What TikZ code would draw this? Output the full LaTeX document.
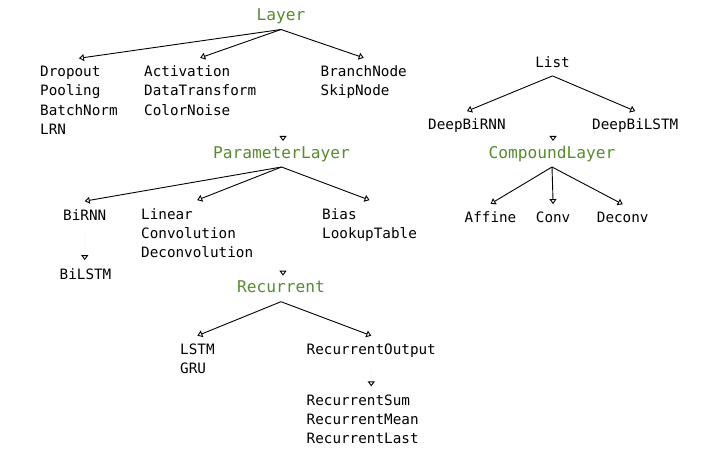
\documentclass[tikz,border=0pt]{standalone}
\usepackage{fontspec}
\setmonofont{DejaVu Sans Mono}
\usetikzlibrary{positioning,arrows.meta}
\definecolor{classgreen}{RGB}{88,138,48}

\begin{document}
\begin{tikzpicture}[x=1pt, y=-1pt,
		group/.style={font=\ttfamily\fontsize{14.3}{19.3}\selectfont, align=left, anchor=base west, inner sep=0pt, outer ysep=8pt},
		title/.style={font=\ttfamily\fontsize{16.2}{19.3}\selectfont, text=classgreen, anchor=base, inner sep=0pt, text height=12pt, text depth=4pt, outer ysep=5pt},
		edge/.style={-{Triangle[open, length=5pt, width=7pt]}, line width=0.9pt},
		hid/.style={draw=black!2, line width=0.9pt, -{Triangle[open, length=5pt, width=7pt, color=black]}}]
	\useasboundingbox (0,0) rectangle (720,468);

	% Layer and its children (groups sit on the baseline of their last line)
	\node[title] (layer) at (281,20.5) {Layer};
	\node[group] (drop) at (40,134.6) {Dropout\\Pooling\\BatchNorm\\LRN};
	\node[group] (act) at (144,115.3) {Activation\\DataTransform\\ColorNoise};
	\node[group] (branch) at (320.5,96) {BranchNode\\SkipNode};
	\draw[edge] (layer.south) -- (drop.north);
	\draw[edge] (layer.south) -- (act.north);
	\draw[edge] (layer.south) -- (branch.north);

	% ParameterLayer
	\node[title] (param) at (281.5,158) {ParameterLayer};
	\coordinate (paramin) at (283,125);
	\draw[hid] (paramin) -- (param.north -| paramin);
	\node[group] (birnn) at (63,220) {BiRNN};
	\node[group] (bilstm) at (59.5,279) {BiLSTM};
	\node[group] (lin) at (141,257.6) {Linear\\Convolution\\Deconvolution};
	\node[group] (bias) at (322,238.3) {Bias\\LookupTable};
	\draw[edge] (param.south) -- (birnn.north);
	\draw[edge] (param.south) -- (lin.north);
	\draw[edge] (param.south) -- (bias.north);
	\draw[hid] (birnn.south) -- (bilstm.north -| birnn.south);

	% Recurrent
	\node[title] (rec) at (281,292.7) {Recurrent};
	\coordinate (recin) at (283,262);
	\draw[hid] (recin) -- (rec.north -| recin);
	\node[group] (lstm) at (180,373.6) {LSTM\\GRU};
	\node[group] (recout) at (306.5,354.3) {RecurrentOutput};
	\node[group] (recsum) at (306.5,443.6) {RecurrentSum\\RecurrentMean\\RecurrentLast};
	\draw[edge] (rec.south) -- (lstm.north);
	\draw[edge] (rec.south) -- (recout.north);
	\draw[hid] (recout.south) -- (recsum.north -| recout.south);

	% List and CompoundLayer
	\node[group, anchor=base] (list) at (552.5,67.7) {List};
	\node[group] (dbrnn) at (428,130) {DeepBiRNN};
	\node[group] (dblstm) at (592,130) {DeepBiLSTM};
	\draw[edge] (list.south) -- (dbrnn.north);
	\draw[edge] (list.south) -- (dblstm.north);
	\node[title] (comp) at (552,158) {CompoundLayer};
	\coordinate (compin) at (553,125);
	\draw[hid] (compin) -- (comp.north -| compin);
	\node[group] (affine) at (464.5,222.7) {Affine};
	\node[group] (conv) at (535.7,222.7) {Conv};
	\node[group] (deconv) at (596.7,222.7) {Deconv};
	\draw[edge] (comp.south) -- (affine.north);
	\draw[edge] (comp.south) -- (conv.north);
	\draw[edge] (comp.south) -- (deconv.north);
\end{tikzpicture}
\end{document}
